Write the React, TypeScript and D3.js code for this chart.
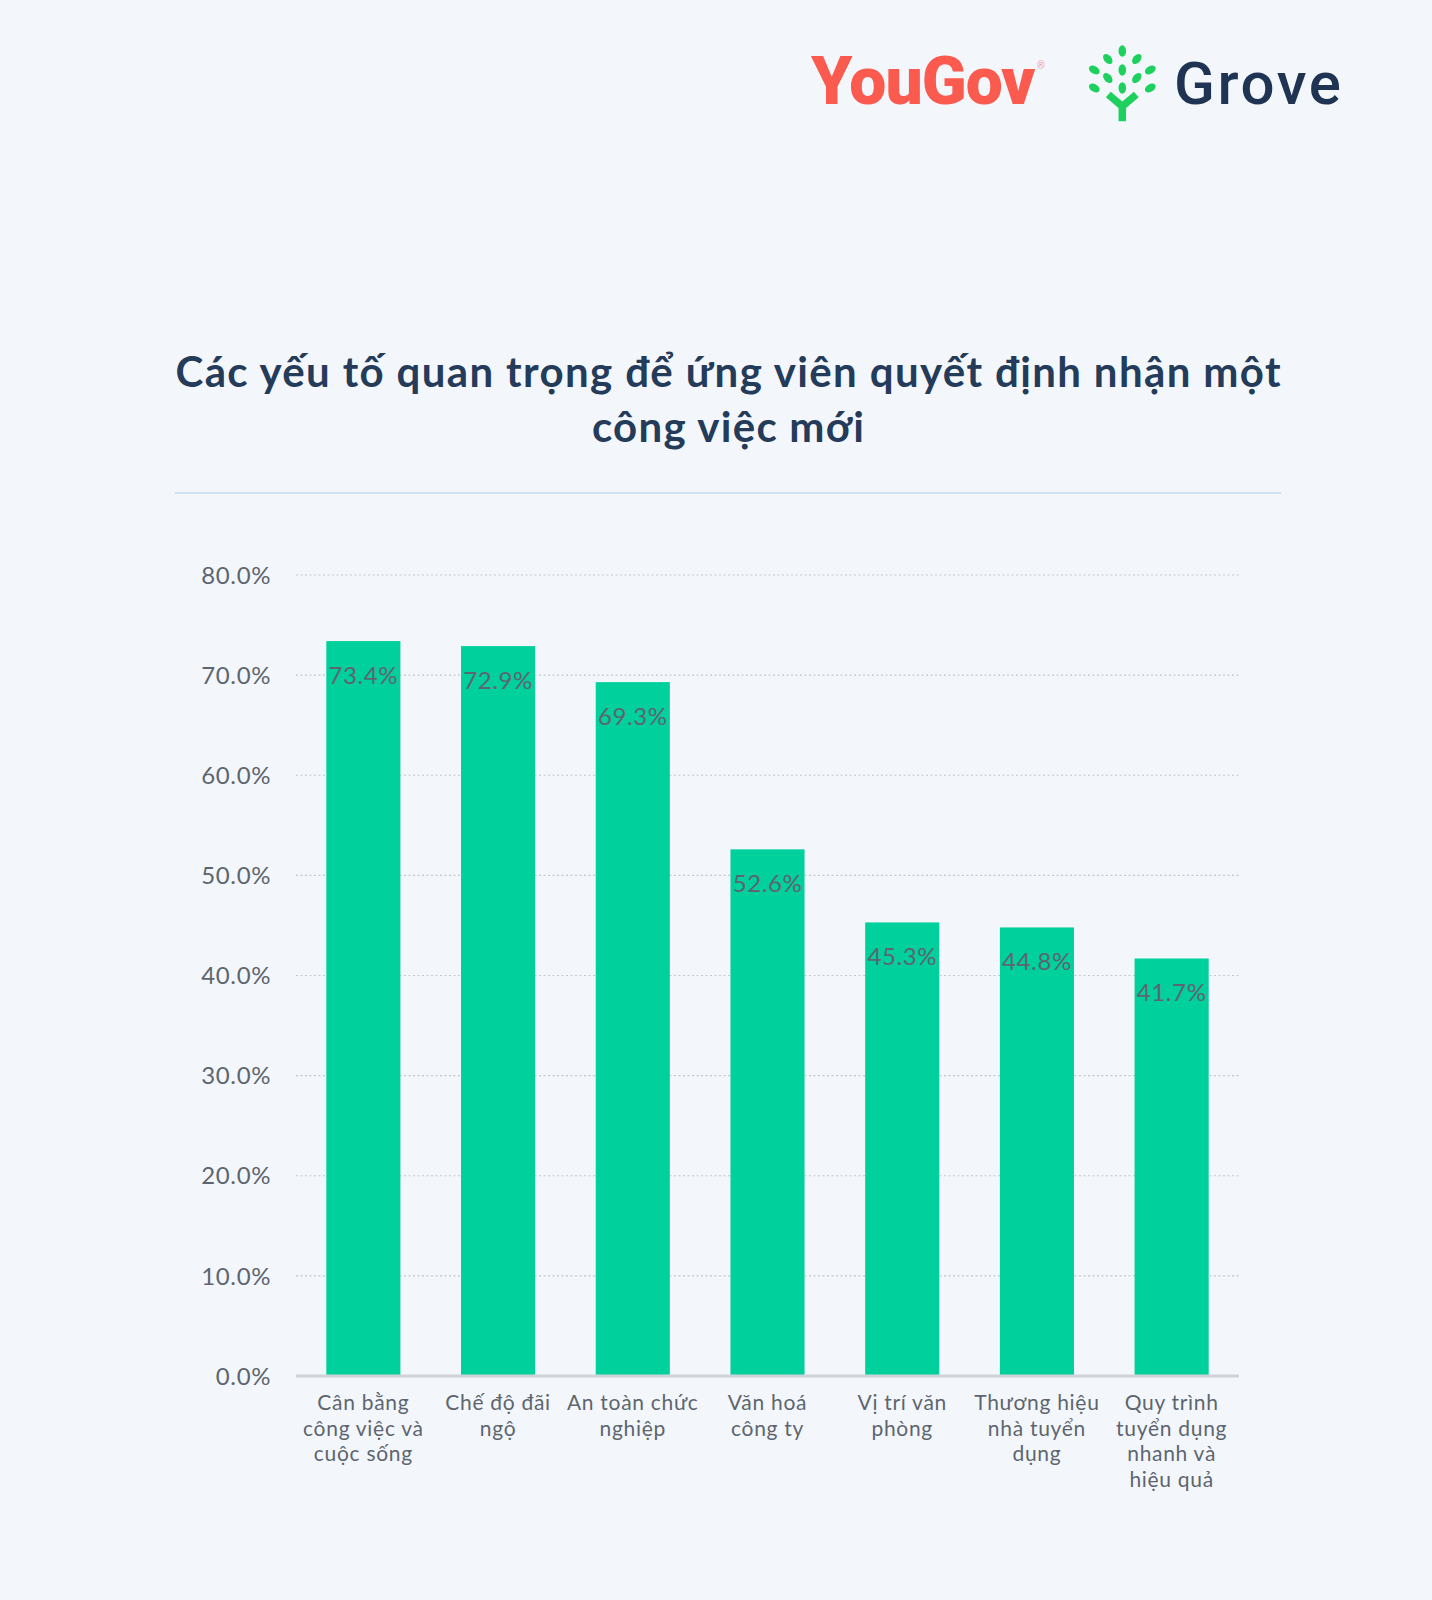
import React from "react";
import * as d3 from "d3";

const categories: string[] = [
  "Cân bằng\ncông việc và\ncuộc sống",
  "Chế độ đãi\nngộ",
  "An toàn chức\nnghiệp",
  "Văn hoá\ncông ty",
  "Vị trí văn\nphòng",
  "Thương hiệu\nnhà tuyển\ndụng",
  "Quy trình\ntuyển dụng\nnhanh và\nhiệu quả",
];
const values: number[] = [73.4, 72.9, 69.3, 52.6, 45.3, 44.8, 41.7];
const yTicks: number[] = [0, 10, 20, 30, 40, 50, 60, 70, 80];
const titleLines: string[] = [
  "Các yếu tố quan trọng để ứng viên quyết định nhận một",
  "công việc mới",
];

const W = 1432;
const H = 1600;
const BG = "#f3f7fb";
const BAR = "#00d09c";
const GRAY = "#5d6570";
const NAVY = "#243b5a";
const FONT = "Lato, 'Noto Sans', sans-serif";

// leaf positions of the Grove icon (relative to icon origin)
const leaves: [number, number, number][] = [
  [0, -37, 0],
  [-14.5, -29, -40],
  [14.5, -29, 40],
  [-28, -18, -60],
  [0, -18, 0],
  [28, -18, 60],
  [-14.5, -10, -40],
  [14.5, -10, 40],
  [-28, 0, -60],
  [0, 0, 0],
  [28, 0, 60],
];

export default function App() {
  const x = d3
    .scaleBand<string>()
    .domain(categories)
    .range([296, 1239])
    .paddingInner(0.45)
    .paddingOuter(0.225);
  const y = d3.scaleLinear().domain([0, 80]).range([1376, 575]);
  const titleWidths = [1105, 272];

  return (
    <div style={{ position: "absolute", left: 0, top: 0, width: W, height: H }}>
      <svg width={W} height={H} style={{ display: "block" }}>
        <rect x={0} y={0} width={W} height={H} fill={BG} />

        {/* Logos */}
        <text x={811} y={104} fontFamily="Roboto, 'Liberation Sans', sans-serif" fontWeight={900} fontSize={66} fill="#fb5a4e" letterSpacing={-1}>
          YouGov
        </text>
        <text x={1037} y={69} fontFamily="Roboto, sans-serif" fontSize={10} fill="#f59d95">®</text>
        <g transform="translate(1122.3,88)">
          {leaves.map((l, i) => (
            <ellipse key={i} cx={l[0]} cy={l[1]} rx={3.8} ry={5.8} transform={`rotate(${l[2]} ${l[0]} ${l[1]})`} fill="#1ed15f" />
          ))}
          <path d="M-14,6.5 L0,18.3 L14,6.5 M0,18.3 L0,33.3" stroke="#1ed15f" strokeWidth={7.5} fill="none" strokeLinejoin="miter" />
        </g>
        <text x={1174} y={104} fontFamily="Roboto, sans-serif" fontWeight={500} fontSize={60} fill="#1f3352" letterSpacing={2.6}>
          Grove
        </text>

        {/* Title */}
        {titleLines.map((t, i) => (
          <text key={i} x={728} y={387 + i * 55} textAnchor="middle" fontFamily={FONT} fontWeight={700} fontSize={42} fill={NAVY} textLength={titleWidths[i]} lengthAdjust="spacing">
            {t}
          </text>
        ))}
        <line x1={175} x2={1281} y1={493} y2={493} stroke="#d3e2f0" strokeWidth={2} />

        {/* Grid + y axis labels */}
        {yTicks.map((t) => (
          <g key={t}>
            {t > 0 && (
              <line x1={296} x2={1239} y1={y(t)} y2={y(t)} stroke="#c3c8ce" strokeWidth={1.2} strokeDasharray="2 2.5" />
            )}
            <text x={271} y={y(t)} dy="0.36em" textAnchor="end" fontFamily={FONT} fontSize={24} letterSpacing={0.6} fill={GRAY}>
              {d3.format(".1f")(t)}%
            </text>
          </g>
        ))}

        {/* Bars */}
        {categories.map((c, i) => (
          <rect key={c} x={x(c)} y={y(values[i])} width={x.bandwidth()} height={y(0) - y(values[i])} fill={BAR} />
        ))}

        {/* baseline */}
        <line x1={296} x2={1239} y1={y(0)} y2={y(0)} stroke="#d0d4d9" strokeWidth={3} />

        {/* Value labels */}
        {categories.map((c, i) => (
          <text key={c} x={(x(c) as number) + x.bandwidth() / 2} y={y(values[i]) + 43} textAnchor="middle" fontFamily={FONT} fontSize={24} letterSpacing={0.6} fill={GRAY}>
            {d3.format(".1f")(values[i])}%
          </text>
        ))}

        {/* Category labels */}
        {categories.map((c) => (
          <text key={c} textAnchor="middle" fontFamily={FONT} fontSize={21} letterSpacing={0.7} fill={GRAY}>
            {c.split("\n").map((line, j) => (
              <tspan key={j} x={(x(c) as number) + x.bandwidth() / 2} y={1410 + j * 25.5}>
                {line}
              </tspan>
            ))}
          </text>
        ))}
      </svg>
    </div>
  );
}
